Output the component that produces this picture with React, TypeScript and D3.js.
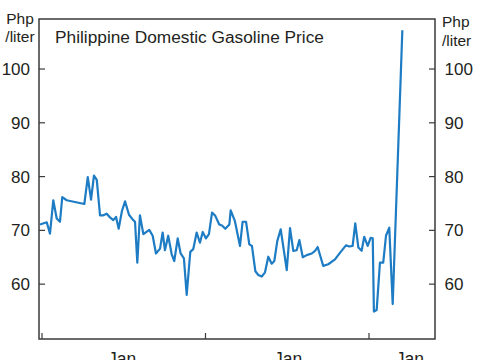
import React from "react";
import * as d3 from "d3";

// time in decimal years, price in Php/liter
const times = [
  2023.488, 2023.529, 2023.549, 2023.569, 2023.59, 2023.61, 2023.624, 2023.651, 2023.759, 2023.78,
  2023.8, 2023.818, 2023.835, 2023.855, 2023.875, 2023.896, 2023.916, 2023.936, 2023.953, 2023.969,
  2023.989, 2024.008, 2024.032, 2024.058, 2024.069, 2024.083, 2024.099, 2024.12, 2024.156, 2024.177,
  2024.197, 2024.222, 2024.238, 2024.252, 2024.272, 2024.293, 2024.309, 2024.33, 2024.348, 2024.368,
  2024.385, 2024.407, 2024.425, 2024.446, 2024.466, 2024.483, 2024.503, 2024.521, 2024.54, 2024.56,
  2024.584, 2024.601, 2024.621, 2024.646, 2024.654, 2024.68, 2024.711, 2024.727, 2024.748, 2024.768,
  2024.784, 2024.805, 2024.823, 2024.844, 2024.864, 2024.884, 2024.905, 2024.921, 2024.939, 2024.96,
  2024.997, 2025.017, 2025.037, 2025.058, 2025.074, 2025.095, 2025.119, 2025.15, 2025.17, 2025.186,
  2025.22, 2025.251, 2025.292, 2025.327, 2025.359, 2025.38, 2025.4, 2025.416, 2025.435, 2025.455,
  2025.471, 2025.492, 2025.51, 2025.523, 2025.53, 2025.547, 2025.567, 2025.587, 2025.604, 2025.624,
  2025.645, 2025.704,
];
const prices = [
  71.1, 71.5, 69.4, 75.6, 72.2, 71.6, 76.2, 75.6, 74.9, 79.9,
  75.7, 80.2, 79.4, 72.8, 72.8, 73.1, 72.4, 71.9, 72.5, 70.3,
  73.6, 75.4, 72.9, 71.9, 71.6, 64.0, 72.8, 69.3, 70.1, 69.0,
  65.7, 66.6, 69.6, 66.3, 69.0, 65.6, 64.3, 68.5, 65.7, 64.8,
  58.0, 66.0, 66.5, 69.6, 67.7, 69.7, 68.5, 69.3, 73.3, 72.7,
  71.1, 70.9, 70.3, 71.1, 73.7, 71.7, 67.1, 71.6, 71.6, 67.4,
  67.1, 62.4, 61.7, 61.4, 62.2, 65.1, 63.8, 64.3, 68.0, 70.2,
  62.6, 70.4, 66.2, 66.3, 68.2, 65.0, 65.4, 65.7, 66.2, 66.9,
  63.4, 63.7, 64.6, 66.0, 67.2, 67.0, 67.1, 71.3, 66.8, 66.2,
  68.8, 67.1, 68.6, 68.5, 54.9, 55.2, 64.0, 64.0, 69.0, 70.5,
  56.3, 107.2,
];

const yTicks = [60, 70, 80, 90, 100];
const xTicks = [2023.5, 2024.5, 2025.5];
const xLabelPos = [2023.99, 2025.005, 2025.75];
const xLabels = ["Jan", "Jan", "Jan"];
const title = "Philippine Domestic Gasoline Price";
const unitLines = ["Php", "/liter"];

const W = 485;
const H = 360;
const L = 39, R = 435, T = 19, B = 339;
const FONT = "'Liberation Sans', Arial, Helvetica, sans-serif";
const INK = "#231f20";
const FRAME = "#3a3a3a";
const LINE = "#1d7cc4";

export default function App() {
  const x = d3.scaleLinear().domain([2023.4817, 2025.9037]).range([L, R]);
  const y = d3.scaleLinear().domain([49.8, 109.3]).range([B, T]);
  const data = times.map((t, i) => [t, prices[i]] as [number, number]);
  const line = d3
    .line<[number, number]>()
    .x((d) => x(d[0]))
    .y((d) => y(d[1]));

  return (
    <svg
      width={W}
      height={H}
      style={{ position: "fixed", left: 0, top: 0, background: "#fff" }}
      fontFamily={FONT}
    >
      <rect x={0} y={0} width={W} height={H} fill="#fff" />
      <path d={line(data) || ""} fill="none" stroke={LINE} strokeWidth={2.2} strokeLinejoin="round" />
      <rect x={L} y={T} width={R - L} height={B - T} fill="none" stroke={FRAME} strokeWidth={1.5} />
      {yTicks.map((v) => (
        <g key={v}>
          <line x1={L} x2={L + 6} y1={y(v)} y2={y(v)} stroke={FRAME} strokeWidth={1.2} />
          <line x1={R - 6} x2={R} y1={y(v)} y2={y(v)} stroke={FRAME} strokeWidth={1.2} />
          <text x={30} y={y(v)} dy="0.36em" textAnchor="end" fontSize={17} fill={INK}>
            {v}
          </text>
          <text x={444.5} y={y(v)} dy="0.36em" textAnchor="start" fontSize={17} fill={INK}>
            {v}
          </text>
        </g>
      ))}
      {xTicks.map((t) => (
        <line key={t} x1={x(t)} x2={x(t)} y1={B} y2={B - 6} stroke={FRAME} strokeWidth={1.2} />
      ))}
      {xLabelPos.map((t, i) => (
        <text key={t} x={x(t)} y={365} textAnchor="middle" fontSize={17.5} fill={INK}>
          {xLabels[i]}
        </text>
      ))}
      <text x={55} y={43} fontSize={17.3} fill={INK}>
        {title}
      </text>
      {unitLines.map((s, i) => (
        <text key={"l" + s} x={20} y={23.5 + i * 18.5} textAnchor="middle" fontSize={15.5} fill={INK}>
          {s}
        </text>
      ))}
      {unitLines.map((s, i) => (
        <text key={"r" + s} x={442} y={27 + i * 18.5} textAnchor="start" fontSize={15.5} fill={INK}>
          {s}
        </text>
      ))}
    </svg>
  );
}
